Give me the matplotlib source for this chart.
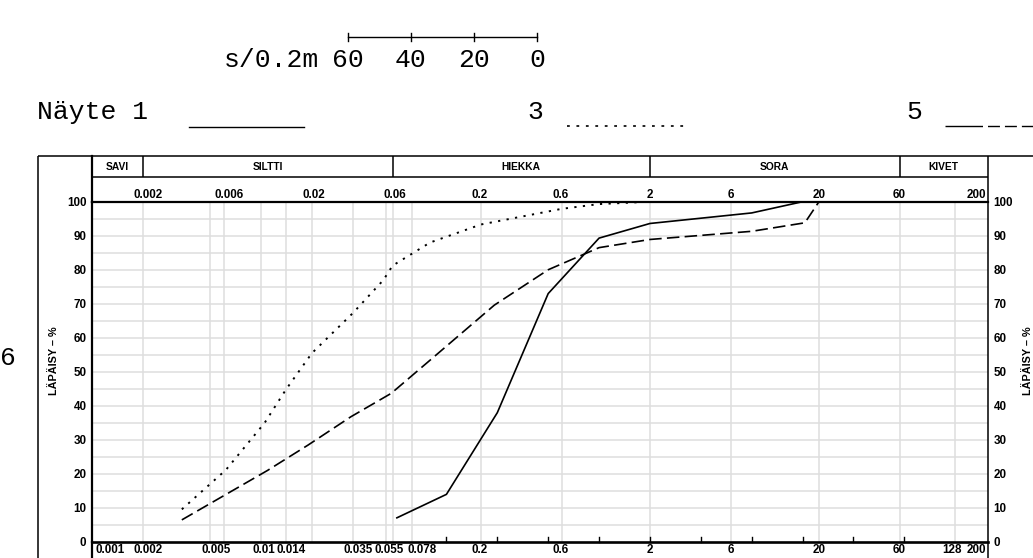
import math
import matplotlib
matplotlib.use("Agg")
import matplotlib.pyplot as plt
import matplotlib.transforms as mtransforms

plt.rcParams['lines.scale_dashes'] = False

# ---------------- data ----------------
sample1_d = [0.063, 0.125, 0.25, 0.5, 1.0, 2.0, 8.0, 16.0]
sample1_p = [7.0, 14.0, 38.0, 73.0, 89.3, 93.6, 96.7, 100.0]

sample3_d = [0.0034, 0.0062, 0.0105, 0.014, 0.02, 0.035, 0.053, 0.06, 0.1, 0.2, 0.6, 1.0, 2.0]
sample3_p = [9.6, 21.2, 35.0, 44.7, 55.5, 67.3, 77.0, 81.2, 88.0, 93.3, 97.9, 99.3, 100.0]

sample5_d = [0.0034, 0.0109, 0.019, 0.034, 0.059, 0.106, 0.24, 0.5, 1.0, 2.0, 8.0, 16.5, 20.0]
sample5_p = [6.5, 21.0, 28.5, 36.8, 43.7, 54.5, 69.6, 80.0, 86.5, 88.9, 91.3, 93.8, 100.0]

top_ticks = [0.002, 0.006, 0.02, 0.06, 0.2, 0.6, 2, 6, 20, 60, 200]
top_labels = ["0.002", "0.006", "0.02", "0.06", "0.2", "0.6", "2", "6", "20", "60", "200"]
bottom_ticks = [0.001, 0.002, 0.005, 0.01, 0.014, 0.035, 0.055, 0.078, 0.2, 0.6, 2, 6, 20, 60, 128, 200]
bottom_labels = ["0.001", "0.002", "0.005", "0.01", "0.014", "0.035", "0.055", "0.078",
                 "0.2", "0.6", "2", "6", "20", "60", "128", "200"]
vgrid = [0.002, 0.005, 0.006, 0.01, 0.014, 0.02, 0.035, 0.055, 0.06, 0.078,
         0.2, 0.6, 2, 6, 20, 60, 128]
minor_marks = [0.125, 0.25, 0.5, 1, 2, 4, 8, 16, 32, 64]
yticks = list(range(0, 101, 10))
hgrid = list(range(5, 100, 5))

classes = ["SAVI", "SILTTI", "HIEKKA", "SORA", "KIVET"]
class_bounds = [0.001, 0.002, 0.06, 2, 60, 200]

scale_labels = ["60", "40", "20", "0"]

# ---------------- figure ----------------
W, H = 1033, 558
fig = plt.figure(figsize=(W / 100, H / 100), dpi=100)

ov = fig.add_axes([0, 0, 1, 1], zorder=0)
ov.set_xlim(0, W)
ov.set_ylim(H, 0)
ov.axis('off')

PL, PR, PT, PB = 92, 988, 201.7, 542
ax = fig.add_axes([PL / W, 1 - PB / H, (PR - PL) / W, (PB - PT) / H], zorder=2)
ax.patch.set_alpha(0)
ax.set_xscale('log')
ax.set_xlim(0.001, 200)
ax.set_ylim(0, 100)

gridc = '#dedede'
for v in vgrid:
    ax.axvline(v, color=gridc, lw=1.1, zorder=0)
for h in hgrid:
    ax.axhline(h, color=gridc, lw=1.1, zorder=0)

# curves
ax.plot(sample1_d, sample1_p, color='black', lw=1.2, solid_capstyle='butt', zorder=3)
ax.plot(sample3_d, sample3_p, color='black', lw=1.4, dashes=(1.6, 4.6), zorder=3)
ax.plot(sample5_d, sample5_p, color='black', lw=1.2, dashes=(9, 3.8), zorder=3)

# spines
for s, lw in (('left', 1.6), ('bottom', 1.9), ('top', 1.6), ('right', 1.1)):
    ax.spines[s].set_linewidth(lw)
    ax.spines[s].set_color('black')

ax.set_xticks([])
ax.xaxis.set_minor_locator(matplotlib.ticker.NullLocator())
ax.set_yticks(yticks)
ax.tick_params(axis='y', length=0, left=True, right=True, labelleft=True, labelright=True)
for t in ax.yaxis.get_major_ticks():
    for lab in (t.label1, t.label2):
        lab.set_fontfamily('Liberation Sans')
        lab.set_fontweight('bold')
        lab.set_fontsize(8.4)
ax.tick_params(axis='y', which='major', pad=4.0)

# small tick marks on bottom axis
blend = mtransforms.blended_transform_factory(ax.transData, ax.transAxes)
for m in minor_marks:
    ax.plot([m, m], [0, 0.015], color='black', lw=1.0, transform=blend, clip_on=False, zorder=4)

lab_font = dict(family='Liberation Sans', fontweight='bold', fontsize=8.4)
special_offsets = {0.055: -12, 0.078: -4}


def place_label(val, text, ypx, bottom=False):
    if val == 0.001:
        ha, off = 'left', 3
    elif val == 200:
        ha, off = 'right', -2
    elif val < 1:
        ha, off = 'left', -9
        if bottom and val in special_offsets:
            off = special_offsets[val]
    else:
        ha, off = 'center', 0
    if bottom and val == 128:
        off = -3
    tr = blend + mtransforms.ScaledTranslation(off / 100, 0, fig.dpi_scale_trans)
    ya = (PB - ypx) / (PB - PT)
    ax.text(val, ya, text, ha=ha, va='center', transform=tr, clip_on=False, **lab_font)


for v, t in zip(top_ticks, top_labels):
    place_label(v, t, 195)
for v, t in zip(bottom_ticks, bottom_labels):
    place_label(v, t, 550, bottom=True)

# ---------------- frame / header ----------------
TOP, SEP = 156, 177
k = dict(color='black', lw=1.1, solid_capstyle='butt')
ov.plot([38, W + 5], [TOP, TOP], **k)
ov.plot([38, 38], [TOP, H + 5], **k)
ov.plot([PL, PL], [TOP, PT], color='black', lw=1.6)
ov.plot([PL, PL], [PB, H + 5], color='black', lw=1.6)
ov.plot([PR, PR], [TOP, PT], **k)
ov.plot([PR, PR], [PB, H + 5], **k)
ov.plot([PL, PR], [SEP, SEP], **k)


def xpx(d):
    return PL + (PR - PL) * (math.log10(d) - math.log10(0.001)) / (math.log10(200) - math.log10(0.001))


for i, name in enumerate(classes):
    x0, x1 = xpx(class_bounds[i]), xpx(class_bounds[i + 1])
    if i > 0:
        ov.plot([x0, x0], [TOP, SEP], **k)
    ov.text((x0 + x1) / 2, 167, name, ha='center', va='center',
            family='Liberation Sans', fontweight='bold', fontsize=7.4)

# y axis titles
ov.text(54, 361, "LÄPÄISY – %", rotation=90, ha='center', va='center',
        family='Liberation Sans', fontweight='bold', fontsize=7.8)
ov.text(1028, 361, "LÄPÄISY – %", rotation=90, ha='center', va='center',
        family='Liberation Sans', fontweight='bold', fontsize=7.8)

# ---------------- top annotations ----------------
big = dict(family='Liberation Mono', fontsize=19, color='black')
ov.text(224, 60, "s/0.2m", ha='left', va='center', **big)
sx = [348, 411, 474, 537]
ov.plot([sx[0], sx[-1]], [37, 37], color='black', lw=1.0)
for x, t in zip(sx, scale_labels):
    ov.plot([x, x], [33, 41], color='black', lw=1.0)
    ov.text(x, 60, t, ha='center', va='center', **big)

ov.text(37, 112, "Näyte 1", ha='left', va='center', **big)
ov.plot([189, 304], [127, 127], color='black', lw=1.0)
ov.text(543, 112, "3", ha='right', va='center', **big)
ov.plot([567, 684], [126, 126], color='black', lw=1.2, dashes=(2.0, 4.8))
ov.text(922, 112, "5", ha='right', va='center', **big)
ov.plot([945, 1040], [126, 126], color='black', lw=1.0,
        dashes=(27, 3.6, 8.6, 3.6, 8.6, 3.6, 8.6, 3.6))

ov.text(0, 358, "6", ha='left', va='center', **big)

fig.savefig("out.png", dpi=100)
